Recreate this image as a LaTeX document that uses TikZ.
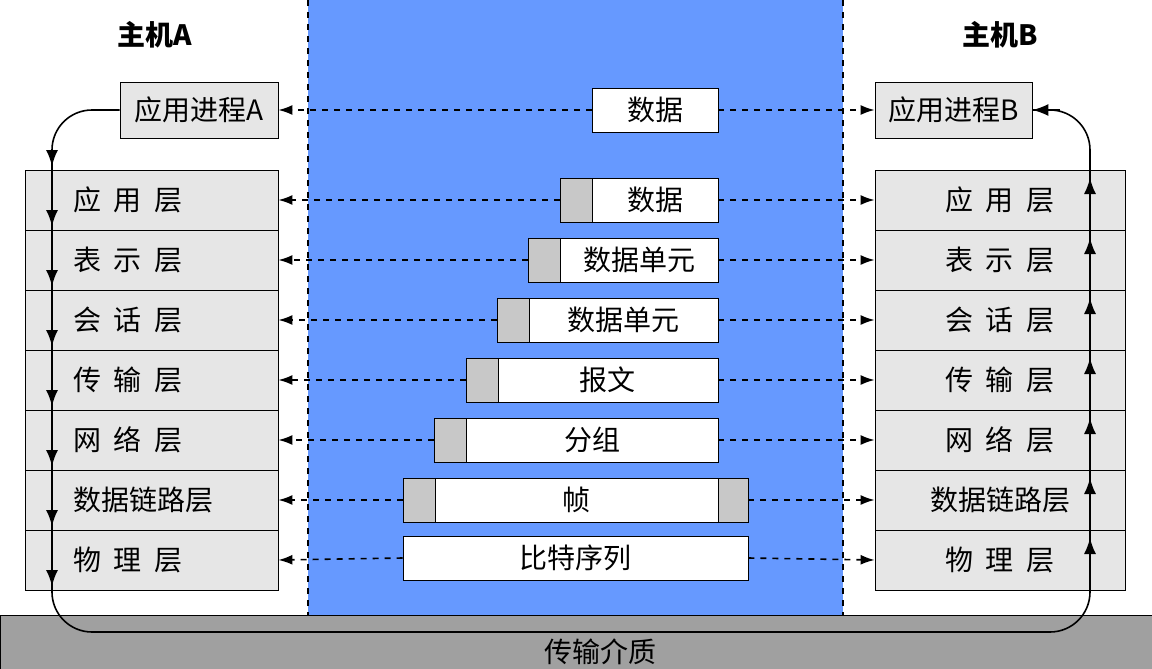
\documentclass[tikz,border=0pt]{standalone}
\usepackage{fontspec}
\setmainfont{Noto Sans CJK SC}
\usetikzlibrary{arrows.meta}
\definecolor{bandblue}{HTML}{6699FF}
\definecolor{boxgray}{HTML}{E6E6E6}
\definecolor{hdrgray}{HTML}{C8C8C8}
\definecolor{medgray}{HTML}{A0A0A0}
\newcommand{\gap}{\hspace{0.45em}}
\tikzset{
  layer/.style={draw,fill=boxgray,minimum width=126.5pt,minimum height=30pt,inner sep=0pt},
  pdu/.style={draw,fill=white,minimum height=22pt,inner sep=0pt},
  hdr/.style={draw,fill=hdrgray,minimum height=22pt,inner sep=0pt},
  link/.style={dashed,thick,-{Latex[length=7pt,width=5pt]}},
  flow/.style={thick,-{Latex[length=8pt,width=6pt]}}
}
\begin{document}
\begin{tikzpicture}[x=0.5pt,y=-0.5pt,font=\fontsize{14}{16}\selectfont]
  \useasboundingbox (0,0) rectangle (1152,669);
  % band and medium
  \fill[bandblue] (308,0) rectangle (843,615);
  \draw[dashed,thick] (308,0) -- (308,615);
  \draw[dashed,thick] (843,0) -- (843,615);
  \draw[fill=medgray] (0,615) rectangle (1152,669);
  \node (medium) at (600,652) {传输介质};
  % hosts
  \node[font=\fontsize{14}{16}\selectfont\bfseries] (hostA) at (155,35) {主机A};
  \node[font=\fontsize{14}{16}\selectfont\bfseries] (hostB) at (1000,35) {主机B};
  \node[draw,fill=boxgray,minimum width=79pt,minimum height=28pt,inner sep=0pt] (appA) at (199,110) {应用进程A};
  \node[draw,fill=boxgray,minimum width=78.5pt,minimum height=28pt,inner sep=0pt] (appB) at (953.5,110) {应用进程B};
  % layers
  \foreach \i/\lab in {1/应\gap 用\gap 层,2/表\gap 示\gap 层,3/会\gap 话\gap 层,4/传\gap 输\gap 层,5/网\gap 络\gap 层,6/数据链路层,7/物\gap 理\gap 层}{
    \node[layer] (L\i) at (151.5,140+60*\i) {};
    \node[anchor=west] (LT\i) at (66,140+60*\i) {\lab};
    \node[layer,minimum width=125pt] (R\i) at (1000,140+60*\i) {\lab};
  }
  % data units
  \node[pdu,minimum width=63pt] (D0) at (655,110) {数据};
  \foreach \i/\x/\lab in {1/592/数据,2/560/数据单元,3/529/数据单元,4/497/报文,5/466/分组,6/434/帧}{
    \node[pdu,minimum width={(718-\x)/2*1pt}] (D\i) at ({(\x+718)/2},140+60*\i) {\lab};
  }
  \foreach \i/\x in {1/560,2/528,3/497,4/466,5/434,6/403}{
    \node[hdr,minimum width=16pt] (H\i) at (\x+16,140+60*\i) {};
  }
  \node[hdr,minimum width=15pt] (T6) at (733,500) {};
  \node[pdu,minimum width=172.5pt] (D7) at (575.5,558) {比特序列};
  % peer links
  \draw[link] (D0.west) -- (appA.east);
  \draw[link] (D0.east) -- (appB.west);
  \foreach \i in {1,...,5}{
    \draw[link] (H\i.west) -- (L\i.east);
    \draw[link] (D\i.east) -- (R\i.west);
  }
  \draw[link] (H6.west) -- (L6.east);
  \draw[link] (T6.east) -- (R6.west);
  \draw[link] (D7.west) -- (L7.east);
  \draw[link] (D7.east) -- (R7.west);
  % actual flow
  \draw[thick,rounded corners=20] (appA.west) -| (52,632) -| (1090,110) -- (appB.east);
  \draw[flow] (1060,110) -- (appB.east);
  \foreach \y in {170,230,...,590}
    \draw[flow] (52,\y-16) -- (52,\y-4);
  \foreach \y in {170,230,...,530}
    \draw[flow] (1090,\y+26) -- (1090,\y+8);
\end{tikzpicture}
\end{document}
